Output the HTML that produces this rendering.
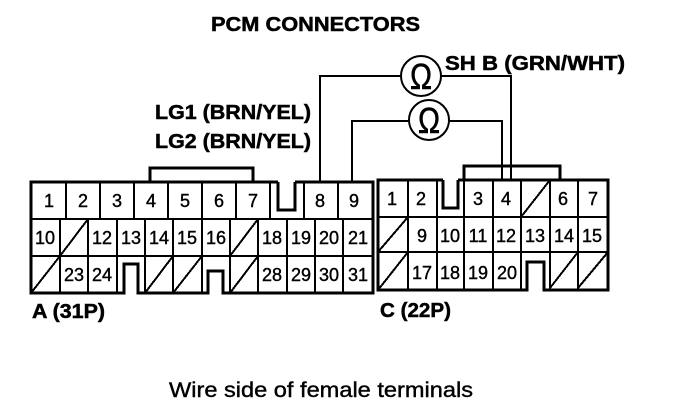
<!DOCTYPE html>
<html><head><meta charset="utf-8"><style>
html,body{margin:0;padding:0;background:#fff}
svg{display:block}
text{font-family:"Liberation Sans",sans-serif;fill:#000}
.b{font-weight:bold;font-size:20px;stroke:#000;stroke-width:.5}
.n{font-size:18px;text-anchor:middle;stroke:#000;stroke-width:.4}
.o{font-size:36px;text-anchor:middle;stroke:#000;stroke-width:.6}
</style></head><body>
<svg width="688" height="410" viewBox="0 0 688 410" xmlns="http://www.w3.org/2000/svg">
<rect width="688" height="410" fill="#fff"/>
<g fill="none" stroke="#000" stroke-width="2" shape-rendering="crispEdges">
<!-- Connector A -->
<path d="M31 219H373M31 256H373"/>
<path d="M66 182V219M100 182V219M134 182V219M168 182V219M202 182V219M236 182V219M270 182V219M304 182V219M338 182V219"/>
<path d="M60 219V293M88 219V293M117 219V293M145 219V293M173 219V293M202 219V293M230 219V293M258 219V293M287 219V293M315 219V293M343 219V293"/>
<path d="M60 256L88 219M230 256L258 219M31 293L60 256M145 293L173 256M173 293L202 256M230 293L258 256"/>
<path stroke-width="3" d="M278 182H31V293H124V264H138V293H208V271H223V293H373V182H295"/>
<path stroke-width="3" d="M278 182V210H295V182"/>
<path stroke-width="3" d="M150 182V168H253V182"/>
<!-- Connector C -->
<path d="M378 217H608M378 252H608"/>
<path d="M408 180V290M437 180V290M464 180V290M493 180V290M521 180V290M550 180V290M578 180V290"/>
<path d="M521 217L550 180M378 252L408 217M378 290L408 252M550 288L578 252M578 288L608 252"/>
<path stroke-width="3" d="M443 180H378V290H527V262H544V290H608V180H458"/>
<path stroke-width="3" d="M443 180V208H458V180"/>
<path stroke-width="3" d="M464 180V166H560V180"/>
<!-- Wires -->
<path d="M320 182V76H401M441 76H511V180"/>
<path d="M352 182V121H409M449 121H502V180"/>
</g>
<g fill="none" stroke="#000" stroke-width="2">
<circle cx="421" cy="76" r="20"/>
<circle cx="429" cy="120" r="20"/>
</g>
<text class="o" x="0" y="0" transform="translate(421 89) scale(.82 1)">Ω</text>
<text class="o" x="0" y="0" transform="translate(429 133) scale(.82 1)">Ω</text>
<text class="b" x="211" y="31" textLength="209" lengthAdjust="spacingAndGlyphs">PCM CONNECTORS</text>
<text class="b" x="445" y="70" textLength="180" lengthAdjust="spacingAndGlyphs">SH B (GRN/WHT)</text>
<text class="b" x="155" y="119" textLength="156" lengthAdjust="spacingAndGlyphs">LG1 (BRN/YEL)</text>
<text class="b" x="155" y="148" textLength="156" lengthAdjust="spacingAndGlyphs">LG2 (BRN/YEL)</text>
<text class="b" x="32" y="318" textLength="73" lengthAdjust="spacingAndGlyphs">A (31P)</text>
<text class="b" x="380" y="317" textLength="71" lengthAdjust="spacingAndGlyphs">C (22P)</text>
<text x="169" y="397" font-size="21" stroke="#000" stroke-width=".4" textLength="304" lengthAdjust="spacingAndGlyphs">Wire side of female terminals</text>
<!-- A numbers -->
<text class="n" x="49" y="207">1</text><text class="n" x="83" y="207">2</text><text class="n" x="117" y="207">3</text><text class="n" x="151" y="207">4</text><text class="n" x="185" y="207">5</text><text class="n" x="219" y="207">6</text><text class="n" x="253" y="207">7</text><text class="n" x="320" y="207">8</text><text class="n" x="354" y="207">9</text>
<text class="n" x="45" y="244">10</text><text class="n" x="102" y="244">12</text><text class="n" x="131" y="244">13</text><text class="n" x="159" y="244">14</text><text class="n" x="187" y="244">15</text><text class="n" x="216" y="244">16</text><text class="n" x="272" y="244">18</text><text class="n" x="301" y="244">19</text><text class="n" x="329" y="244">20</text><text class="n" x="358" y="244">21</text>
<text class="n" x="74" y="281">23</text><text class="n" x="102" y="281">24</text><text class="n" x="272" y="281">28</text><text class="n" x="301" y="281">29</text><text class="n" x="329" y="281">30</text><text class="n" x="358" y="281">31</text>
<!-- C numbers -->
<text class="n" x="392" y="205">1</text><text class="n" x="421" y="205">2</text><text class="n" x="478" y="205">3</text><text class="n" x="506" y="205">4</text><text class="n" x="563" y="205">6</text><text class="n" x="593" y="205">7</text>
<text class="n" x="422" y="242">9</text><text class="n" x="450" y="242">10</text><text class="n" x="478" y="242">11</text><text class="n" x="506" y="242">12</text><text class="n" x="535" y="242">13</text><text class="n" x="564" y="242">14</text><text class="n" x="592" y="242">15</text>
<text class="n" x="422" y="279">17</text><text class="n" x="450" y="279">18</text><text class="n" x="478" y="279">19</text><text class="n" x="507" y="279">20</text>
</svg>
</body></html>
